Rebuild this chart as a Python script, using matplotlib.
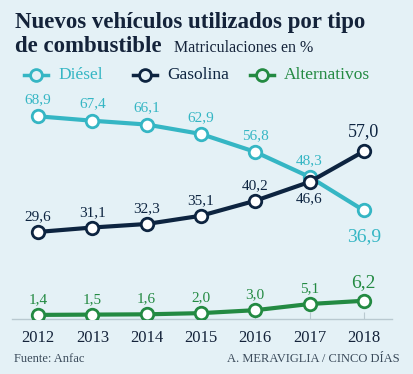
import matplotlib
matplotlib.use("Agg")
import matplotlib.pyplot as plt

years = [2012, 2013, 2014, 2015, 2016, 2017, 2018]
diesel = [68.9, 67.4, 66.1, 62.9, 56.8, 48.3, 36.9]
gasolina = [29.6, 31.1, 32.3, 35.1, 40.2, 46.6, 57.0]
alternativos = [1.4, 1.5, 1.6, 2.0, 3.0, 5.1, 6.2]

BG = "#e4f1f6"
C_DIE = "#35b6c4"
C_GAS = "#0d2440"
C_ALT = "#238a42"
TXT = "#14233a"
SERIF = "Liberation Serif"

fig = plt.figure(figsize=(4.14, 3.74), dpi=100, facecolor=BG)
ax = fig.add_axes([0.029, 0.147, 0.918, 0.590])
ax.set_facecolor(BG)

def fmt(v):
    return f"{v:.1f}".replace(".", ",")

series = [(diesel, C_DIE), (gasolina, C_GAS), (alternativos, C_ALT)]
for vals, c in series:
    ax.plot(years, vals, color=c, lw=3, marker="o", ms=9, mfc="white",
            mec=c, mew=2, zorder=3, solid_capstyle="butt")

# data labels
for i, (y, v) in enumerate(zip(years, diesel)):
    last = i == len(years) - 1
    off = -19 if last else 12
    ax.annotate(fmt(v), (y, v), xytext=(0, off), textcoords="offset points",
                ha="center", va="center", color=C_DIE,
                fontsize=14 if last else 11, family=SERIF, zorder=4)
for i, (y, v) in enumerate(zip(years, gasolina)):
    last = i == len(years) - 1
    off = 14 if last else 11
    if y == 2017:
        off = -12
    ax.annotate(fmt(v), (y, v), xytext=(0, off), textcoords="offset points",
                ha="center", va="center", color=C_GAS,
                fontsize=13 if last else 11, family=SERIF, zorder=4)
for i, (y, v) in enumerate(zip(years, alternativos)):
    last = i == len(years) - 1
    ax.annotate(fmt(v), (y, v), xytext=(0, 13 if last else 11), textcoords="offset points",
                ha="center", va="center", color=C_ALT,
                fontsize=14 if last else 11, family=SERIF, zorder=4)

ax.set_xlim(2011.52, 2018.52)
ax.set_ylim(0, 75)
for s in ["top", "right", "left"]:
    ax.spines[s].set_visible(False)
ax.spines["bottom"].set_color("#b9c9d0")
ax.spines["bottom"].set_linewidth(1)
ax.set_yticks([])
ax.set_xticks(years)
ax.set_xticklabels([str(y) for y in years], family=SERIF, fontsize=12, color=TXT)
ax.tick_params(axis="x", direction="in", length=5, color="#b9c9d0", pad=8)

# title block
fig.text(0.036, 0.925, "Nuevos vehículos utilizados por tipo", family=SERIF,
         fontweight="bold", fontsize=16.5, color=TXT, va="baseline")
fig.text(0.036, 0.862, "de combustible", family=SERIF,
         fontweight="bold", fontsize=16.5, color=TXT, va="baseline")
fig.text(0.42, 0.862, "Matriculaciones en %", family=SERIF,
         fontsize=11.5, color=TXT, va="baseline")

# legend
legend_items = [("Diésel", C_DIE, 0.058), ("Gasolina", C_GAS, 0.322), ("Alternativos", C_ALT, 0.604)]
for label, c, x0 in legend_items:
    fig.lines.append(plt.Line2D([x0, x0 + 0.058], [0.8, 0.8], transform=fig.transFigure,
                                color=c, lw=2.5))
    fig.lines.append(plt.Line2D([x0 + 0.029], [0.8], transform=fig.transFigure,
                                color=c, marker="o", ms=8.5, mfc=BG, mec=c, mew=2, lw=0))
    fig.text(x0 + 0.082, 0.8, label, family=SERIF, fontsize=12.5, color=c, va="center")

# footer
fig.text(0.034, 0.04, "Fuente: Anfac", family=SERIF, fontsize=9, color="#3a4a5a", va="center")
fig.text(0.966, 0.04, "A. MERAVIGLIA / CINCO DÍAS", family=SERIF, fontsize=9,
         color="#3a4a5a", va="center", ha="right")

fig.savefig("out.png", dpi=100, facecolor=BG)
